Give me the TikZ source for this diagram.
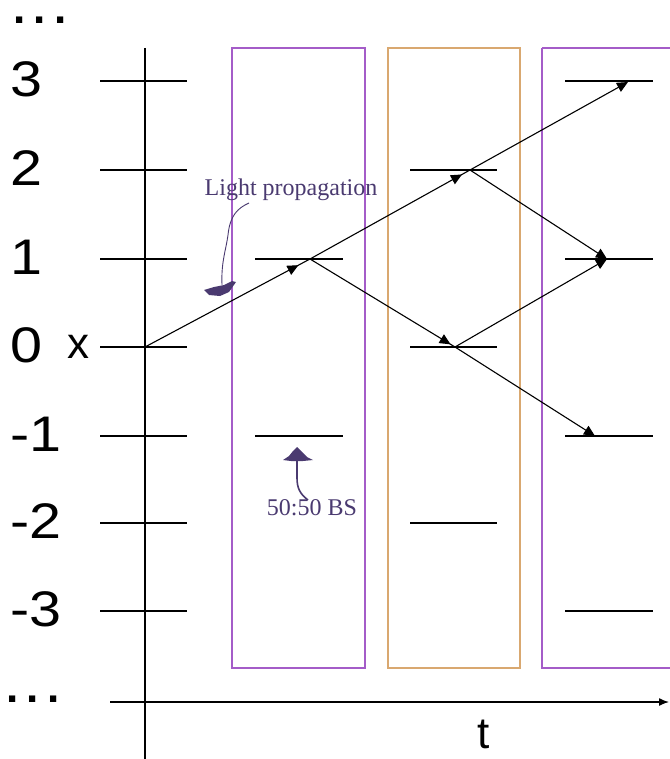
\documentclass[tikz,border=0pt]{standalone}
\usepackage{fontspec}
\setmainfont{Liberation Serif}
\setsansfont{Liberation Sans}
\usetikzlibrary{arrows.meta,decorations.markings}
\definecolor{boxpurple}{HTML}{A45CC8}
\definecolor{boxorange}{HTML}{D9A870}
\definecolor{labelink}{HTML}{4A3A70}
\newcommand{\bignum}{\sffamily\fontsize{50}{50}\selectfont}
\newcommand{\spaceddots}{.\hspace{8pt}.\hspace{8pt}.}
\tikzset{
  rownum/.style={anchor=west,inner sep=0pt,font=\bignum},
  dotlabel/.style={font=\sffamily\bfseries\fontsize{44}{44}\selectfont,inner sep=0pt,anchor=base,text height=7pt,text depth=0pt},
  tickline/.style={line width=1.1pt},
  bsbox/.style={line width=1.4pt},
  beam/.style={line width=1.1pt},
  tip/.style={-{Triangle[length=11pt,width=10pt]}},
  midtip/.style={postaction={decorate},decoration={markings,
      mark=at position #1 with {\arrow{Triangle[length=11pt,width=10pt]}}}},
  note/.style={font=\fontsize{24}{24}\selectfont,text=labelink,inner sep=0pt},
}
\begin{document}
\begin{tikzpicture}[x=1pt,y=-1pt]
\useasboundingbox (0,0) rectangle (669,759);
% boxes
\draw[bsbox,boxpurple] (232,48) rectangle (365,668);
\draw[bsbox,boxorange] (388,48) rectangle (520,668);
\draw[bsbox,boxpurple] (542,48) -- (542,668) -- (680,668);
\draw[bsbox,boxpurple] (542,48) -- (680,48);
% axes
\coordinate (vtop) at (145,48);
\coordinate (vbot) at (145,759);
\draw[line width=1.2pt] (vtop) -- (vbot);
\coordinate (hl) at (110,702);
\coordinate (hr) at (669,702);
\draw[line width=1.4pt,-{Latex[length=10pt,width=8pt]}] (hl) -- (hr);
% row labels and ticks
\foreach \v/\y in {3/81,2/170,1/259,0/347,-1/436,-2/523,-3/611}{
  \node[rownum] (lab\v) at (10,\y-2) {\scalebox{1.15}[1]{\v}};
  \draw[tickline] (100,\y) -- (187,\y);
}
\node[dotlabel] (dtop) at (40,24) {\spaceddots};
\node[dotlabel] (dbot) at (33,702) {\spaceddots};
\node[font=\sffamily\fontsize{44}{44}\selectfont,inner sep=0pt,anchor=base] (xl) at (78,358) {x};
\node[font=\sffamily\fontsize{44}{44}\selectfont,inner sep=0pt,anchor=base] (tl) at (484,748) {t};
% beam splitter lines
\draw[tickline] (255,259) -- (343,259);
\draw[tickline] (255,436) -- (343,436);
\draw[tickline] (410,170) -- (497,170);
\draw[tickline] (410,347) -- (497,347);
\draw[tickline] (410,523) -- (497,523);
\draw[tickline] (565,81) -- (653,81);
\draw[tickline] (565,259) -- (653,259);
\draw[tickline] (565,436) -- (653,436);
\draw[tickline] (565,611) -- (653,611);
% beam points
\coordinate (src) at (145,347);
\coordinate (b1) at (310,259);
\coordinate (b2u) at (470,170);
\coordinate (b2d) at (455,347);
\coordinate (e3) at (628,82);
\coordinate (e1) at (607,259);
\coordinate (em1) at (595,436);
\draw[beam,midtip=0.93] (src) -- (b1);
\draw[beam,midtip=0.95] (b1) -- (b2u);
\draw[beam,midtip=0.97] (b1) -- (b2d);
\draw[beam,tip] (b2u) -- (e3);
\draw[beam,tip] (b2u) -- (e1);
\draw[beam,tip] (b2d) -- (e1);
\draw[beam,tip] (b2d) -- (em1);
% annotations
\node[note] (lp) at (291,190) {Light propagation};
\draw[labelink,line width=0.9pt] (249,203) .. controls (238,208) and (230,215) .. (228,235)
  .. controls (226,250) and (221,262) .. (222,285);
\fill[labelink] (204,290) -- (214,287) -- (224,285) -- (232,281) -- (236,282) -- (229,292) -- (220,296) -- (209,295) -- cycle;
\node[note] (bs) at (312,508) {50:50 BS};
\draw[labelink,line width=1.6pt] (308,500) .. controls (300,494) and (297,488) .. (297,478) -- (297,460);
\fill[labelink] (283,460) -- (289,456) -- (293,451) -- (297,447) -- (302,452) -- (307,457) -- (313,460) -- (303,461) -- (291,461) -- cycle;
\end{tikzpicture}
\end{document}
